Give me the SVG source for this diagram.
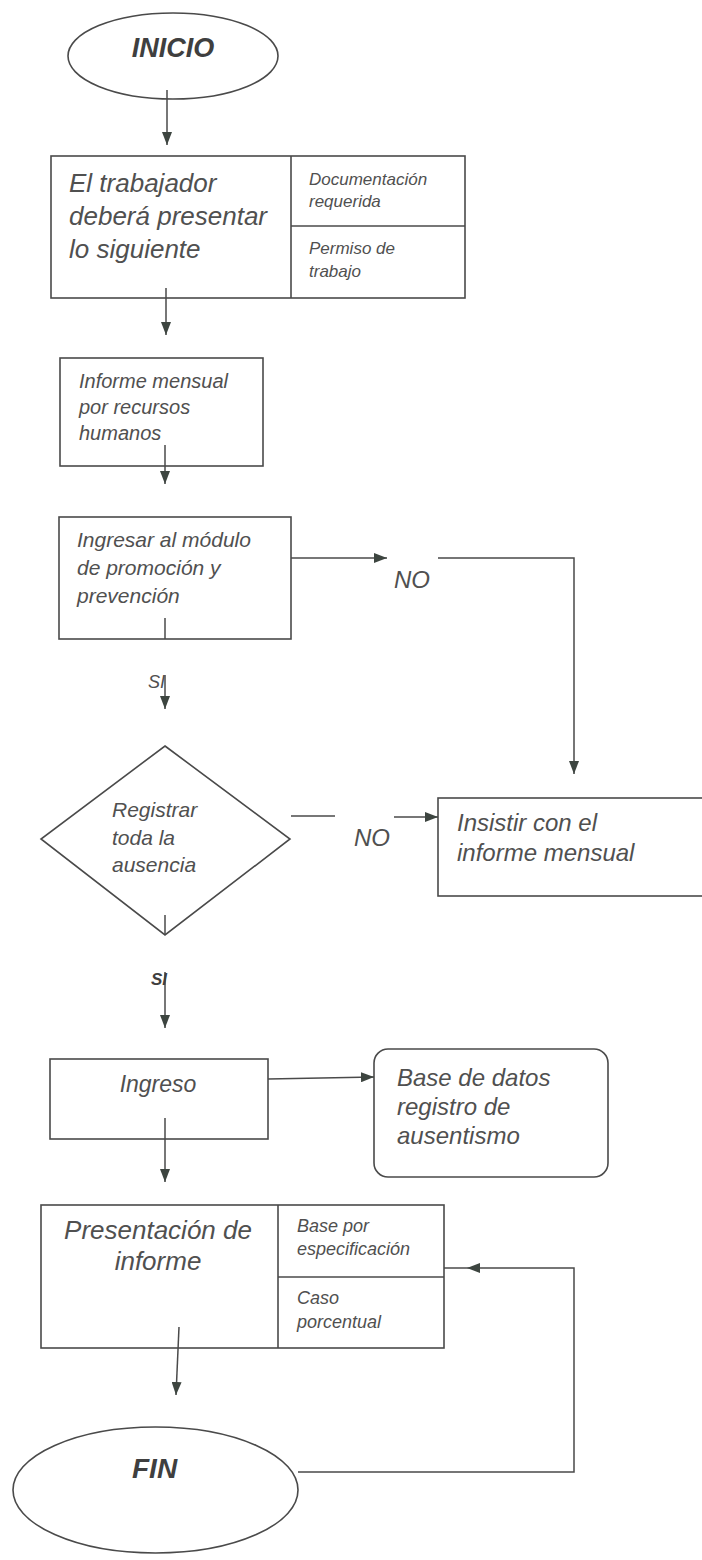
<svg xmlns="http://www.w3.org/2000/svg" width="702" height="1560" viewBox="0 0 702 1560">
<style>
.shape{fill:none;stroke:#4a4a4a;stroke-width:1.6}
.ln{fill:none;stroke:#4a4a4a;stroke-width:1.5}
.t{font-family:"Liberation Sans",Arial,sans-serif;font-style:italic;fill:#505050}
.b{font-weight:bold;fill:#3f3f3f}
</style>
<defs>
<marker id="ah" viewBox="0 0 13 10" refX="13" refY="5" markerWidth="13" markerHeight="10" markerUnits="userSpaceOnUse" orient="auto">
<path d="M0,0 L13,5 L0,10 z" fill="#3d4540"/>
</marker>
</defs>
<rect width="702" height="1560" fill="#ffffff"/>

<g id="inicio">
<ellipse class="shape" cx="173" cy="56" rx="105" ry="43"/>
<text class="t b" x="173" y="57" font-size="27" text-anchor="middle">INICIO</text>
</g>

<g id="presentar">
<rect class="shape" x="51" y="156" width="414" height="142"/>
<line class="shape" x1="291" y1="156" x2="291" y2="298"/>
<line class="shape" x1="291" y1="226" x2="465" y2="226"/>
<text class="t" x="69" y="192" font-size="26">El trabajador</text>
<text class="t" x="69" y="225" font-size="26">deberá presentar</text>
<text class="t" x="69" y="258" font-size="26">lo siguiente</text>
<text class="t" x="309" y="185" font-size="17">Documentación</text>
<text class="t" x="309" y="207" font-size="17">requerida</text>
<text class="t" x="309" y="254" font-size="17">Permiso de</text>
<text class="t" x="309" y="277" font-size="17">trabajo</text>
</g>

<g id="informe">
<rect class="shape" x="60" y="358" width="203" height="108"/>
<text class="t" x="79" y="388" font-size="20">Informe mensual</text>
<text class="t" x="79" y="414" font-size="20">por recursos</text>
<text class="t" x="79" y="440" font-size="20">humanos</text>
</g>

<g id="ingresar">
<rect class="shape" x="59" y="517" width="232" height="122"/>
<text class="t" x="77" y="547" font-size="21">Ingresar al módulo</text>
<text class="t" x="77" y="575" font-size="21">de promoción y</text>
<text class="t" x="77" y="603" font-size="21">prevención</text>
</g>

<g id="registrar">
<polygon class="shape" points="165,746 290,839 165,935 41,839"/>
<text class="t" x="112" y="817" font-size="21">Registrar</text>
<text class="t" x="112" y="845" font-size="21">toda la</text>
<text class="t" x="112" y="872" font-size="21">ausencia</text>
</g>

<g id="insistir">
<rect class="shape" x="438" y="798" width="280" height="98"/>
<text class="t" x="457" y="831" font-size="24">Insistir con el</text>
<text class="t" x="457" y="861" font-size="24">informe mensual</text>
</g>

<g id="ingreso">
<rect class="shape" x="50" y="1059" width="218" height="80"/>
<text class="t" x="158" y="1092" font-size="23" text-anchor="middle">Ingreso</text>
</g>

<g id="basedatos">
<rect class="shape" x="374" y="1049" width="234" height="128" rx="14" ry="14"/>
<text class="t" x="397" y="1086" font-size="24">Base de datos</text>
<text class="t" x="397" y="1115" font-size="24">registro de</text>
<text class="t" x="397" y="1144" font-size="24">ausentismo</text>
</g>

<g id="presentacion">
<rect class="shape" x="41" y="1205" width="403" height="143"/>
<line class="shape" x1="278" y1="1205" x2="278" y2="1348"/>
<line class="shape" x1="278" y1="1277" x2="444" y2="1277"/>
<text class="t" x="158" y="1239" font-size="26" text-anchor="middle">Presentación de</text>
<text class="t" x="158" y="1270" font-size="26" text-anchor="middle">informe</text>
<text class="t" x="297" y="1232" font-size="18">Base por</text>
<text class="t" x="297" y="1255" font-size="18">especificación</text>
<text class="t" x="297" y="1304" font-size="18">Caso</text>
<text class="t" x="297" y="1328" font-size="18">porcentual</text>
</g>

<g id="fin">
<ellipse class="shape" cx="155.5" cy="1490" rx="142.5" ry="63"/>
<text class="t b" x="132" y="1478" font-size="28">FIN</text>
</g>

<g id="connectors">
<line class="ln" x1="167" y1="90" x2="167" y2="145" marker-end="url(#ah)"/>
<line class="ln" x1="166" y1="288" x2="166" y2="335" marker-end="url(#ah)"/>
<line class="ln" x1="165" y1="445" x2="165" y2="484" marker-end="url(#ah)"/>
<line class="ln" x1="291" y1="558" x2="387" y2="558" marker-end="url(#ah)"/>
<path class="ln" d="M438,558 H574 V774" marker-end="url(#ah)"/>
<line class="ln" x1="165" y1="618" x2="165" y2="639"/>
<line class="ln" x1="165" y1="675" x2="165" y2="709" marker-end="url(#ah)"/>
<line class="ln" x1="165" y1="915" x2="165" y2="935"/>
<line class="ln" x1="291" y1="816" x2="335" y2="816"/>
<line class="ln" x1="394" y1="817" x2="438" y2="817" marker-end="url(#ah)"/>
<line class="ln" x1="165" y1="972" x2="165" y2="1028" marker-end="url(#ah)"/>
<line class="ln" x1="268" y1="1079" x2="374" y2="1077" marker-end="url(#ah)"/>
<line class="ln" x1="165" y1="1118" x2="165" y2="1182" marker-end="url(#ah)"/>
<line class="ln" x1="179" y1="1327" x2="176" y2="1395" marker-end="url(#ah)"/>
<path class="ln" d="M298,1472 H574 V1268 H467" marker-end="url(#ah)"/>
<line class="ln" x1="467" y1="1268" x2="444" y2="1268"/>
<text class="t" x="394" y="588" font-size="24">NO</text>
<text class="t" x="148" y="688" font-size="18">SI</text>
<text class="t" x="354" y="846" font-size="24">NO</text>
<text class="t b" x="151" y="985" font-size="17" font-style="normal">SI</text>
</g>
</svg>
